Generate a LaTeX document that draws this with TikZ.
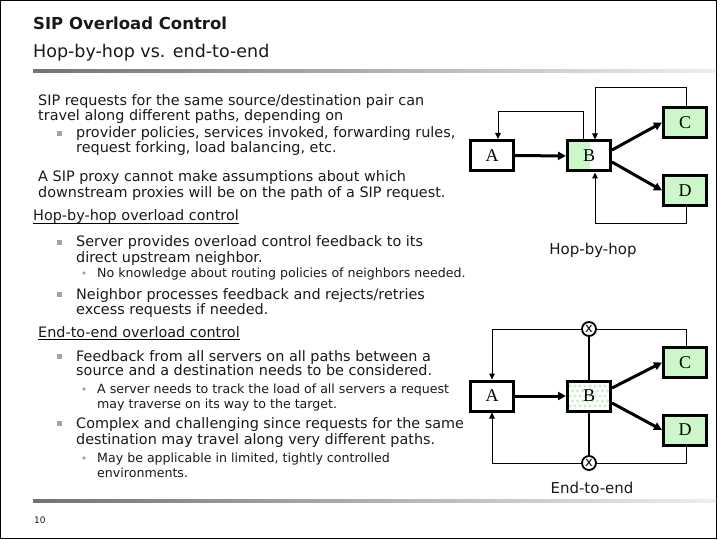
\documentclass[tikz,border=0pt]{standalone}
\usepackage{fontspec}
\setmainfont{DejaVu Sans}
\newfontfamily\boxserif{Liberation Serif}
\usetikzlibrary{arrows.meta,calc}
\definecolor{boxgreen}{RGB}{204,247,200}
\definecolor{dotgreen}{RGB}{200,238,200}
\definecolor{txt}{RGB}{25,25,25}
\definecolor{bulletgrey}{RGB}{165,165,165}
\definecolor{rulegrey}{RGB}{115,115,115}
\definecolor{rulelight}{RGB}{238,238,238}
\tikzset{
  bodytext/.style={anchor=base west, inner sep=0pt, text=txt, font=\fontsize{14.4}{15}\selectfont},
  smalltext/.style={anchor=base west, inner sep=0pt, text=txt, font=\fontsize{12.6}{15}\selectfont},
  sqbullet/.style={fill=bulletgrey, minimum size=5pt, inner sep=0pt},
  dotbullet/.style={circle, fill=bulletgrey, minimum size=3.6pt, inner sep=0pt},
  srv/.style={draw=black, line width=3pt, minimum width=43pt, minimum height=30pt, inner sep=0pt,
              font=\boxserif\fontsize{18}{18}\selectfont},
  srvgreen/.style={srv, fill=boxgreen},
  thickarrow/.style={line width=3pt, -{Triangle[length=8pt,width=8pt]}},
  fbarrow/.style={line width=1pt, -{Triangle[length=6pt,width=5.5pt]}},
  fbline/.style={line width=1.2pt},
  xcirc/.style={circle, draw=black, line width=1.8pt, fill=white, minimum size=14pt, inner sep=0pt,
                font=\fontsize{13}{13}\selectfont},
  caption/.style={inner sep=0pt, font=\fontsize{15}{15}\selectfont, text=txt}
}
\begin{document}
\begin{tikzpicture}[x=1pt,y=-1pt]
\useasboundingbox (0,0) rectangle (720,540);
% frame
\draw[line width=1pt] (0.5,0.5) rectangle (716,538.5);
% title
\node[anchor=base west, inner sep=0pt, text=txt, font=\bfseries\fontsize{16.5}{18}\selectfont] (title) at (33,30) {SIP Overload Control};
\node[anchor=base west, inner sep=0pt, text=txt, font=\fontsize{17.5}{18}\selectfont] (subtitle) at (33,58) {Hop-by-hop vs. end-to-end};
\shade[left color=rulegrey, right color=rulelight] (33,69.5) rectangle (716,72.5);
\shade[left color=rulegrey, right color=rulelight] (33,499.5) rectangle (716,502.5);
\node[anchor=base west, inner sep=0pt, text=txt, font=\fontsize{9}{9}\selectfont] (pagenum) at (34,523) {10};

% body text
\node[bodytext] (t1) at (38,106) {SIP requests for the same source/destination pair can};
\node[bodytext] (t2) at (38,121) {travel along different paths, depending on};
\node[sqbullet] (b1) at (59,133.5) {};
\node[bodytext] (t3) at (76,138) {provider policies, services invoked, forwarding rules,};
\node[bodytext] (t4) at (76,153) {request forking, load balancing, etc.};
\node[bodytext] (t5) at (38,182) {A SIP proxy cannot make assumptions about which};
\node[bodytext] (t6) at (38,198) {downstream proxies will be on the path of a SIP request.};
\node[bodytext] (h1) at (33,221) {Hop-by-hop overload control};
\draw[line width=1.3pt] ([yshift=-2.5pt]h1.base west) -- ([yshift=-2.5pt]h1.base east);
\node[sqbullet] (b2) at (59,242.5) {};
\node[bodytext] (t7) at (76,247) {Server provides overload control feedback to its};
\node[bodytext] (t8) at (76,262) {direct upstream neighbor.};
\node[dotbullet] (d1) at (84,273) {};
\node[smalltext] (s1) at (97,277) {No knowledge about routing policies of neighbors needed.};
\node[sqbullet] (b3) at (59,294.5) {};
\node[bodytext] (t9) at (76,299) {Neighbor processes feedback and rejects/retries};
\node[bodytext] (t10) at (76,314) {excess requests if needed.};
\node[bodytext] (h2) at (38,337) {End-to-end overload control};
\draw[line width=1.3pt] ([yshift=-2.5pt]h2.base west) -- ([yshift=-2.5pt]h2.base east);
\node[sqbullet] (b4) at (59,356.5) {};
\node[bodytext] (t11) at (76,361) {Feedback from all servers on all paths between a};
\node[bodytext] (t12) at (76,375) {source and a destination needs to be considered.};
\node[dotbullet] (d2) at (84,389) {};
\node[smalltext] (s2) at (97,393) {A server needs to track the load of all servers a request};
\node[smalltext] (s3) at (97,408) {may traverse on its way to the target.};
\node[sqbullet] (b5) at (59,423.5) {};
\node[bodytext] (t13) at (76,428) {Complex and challenging since requests for the same};
\node[bodytext] (t14) at (76,444) {destination may travel along very different paths.};
\node[dotbullet] (d3) at (84,458) {};
\node[smalltext] (s4) at (97,462) {May be applicable in limited, tightly controlled};
\node[smalltext] (s5) at (97,477) {environments.};

% ---------- Hop-by-hop diagram ----------
\node[srv] (Ah) at (492,155.5) {A};
\node[srv, path picture={\fill[boxgreen] (path picture bounding box.south west) rectangle ($(path picture bounding box.north west)!0.53!(path picture bounding box.north east)$);}] (Bh) at (589,156) {B};
\node[srvgreen] (Ch) at (685,122.5) {C};
\node[srvgreen] (Dh) at (685,190.5) {D};
\draw[thickarrow] (Ah) -- (Bh);
\draw[thickarrow] ([yshift=6pt]Bh.east) -- (Ch.west);
\draw[thickarrow] ([yshift=-6pt]Bh.east) -- (Dh.west);
\draw[fbarrow] ([xshift=-6pt]Bh.north) |- (498,112) -- ([xshift=6pt]Ah.north);
\draw[fbarrow] ([xshift=1pt]Ch.north) |- (595,88) -- ([xshift=6pt]Bh.north);
\draw[fbarrow] ([xshift=1pt]Dh.south) |- (595,224) -- ([xshift=6pt]Bh.south);
\node[caption] (lh) at (593,250) {Hop-by-hop};

% ---------- End-to-end diagram ----------
\node[srv] (Ae) at (492,396) {A};
\node[srv, path picture={
  \foreach \i in {0,...,10} \foreach \j in {0,...,7} {
    \fill[dotgreen] ($(path picture bounding box.north west)+({\i*5+mod(\j,2)*2.5},{\j*5})$) circle (1.7pt);
  }}] (Be) at (589,396) {B};
\node[srvgreen] (Ce) at (685,362.5) {C};
\node[srvgreen] (De) at (685,430) {D};
\coordinate (tl) at (492,329);
\coordinate (bl) at (492,463);
\draw[fbarrow] ([xshift=1pt]Ce.north) |- (tl) -- (Ae.north);
\draw[fbarrow] ([xshift=1pt]De.south) |- (bl) -- (Ae.south);
\node[xcirc] (xt) at (589,329) {x};
\node[xcirc] (xb) at (589,463) {x};
\draw[fbline] (Be.north) -- (xt);
\draw[fbline] (Be.south) -- (xb);
\draw[thickarrow] (Ae) -- (Be);
\draw[thickarrow] ([yshift=8pt]Be.east) -- (Ce.west);
\draw[thickarrow] ([yshift=-7pt]Be.east) -- (De.west);
\node[caption] (le) at (592,488) {End-to-end};
\end{tikzpicture}
\end{document}
